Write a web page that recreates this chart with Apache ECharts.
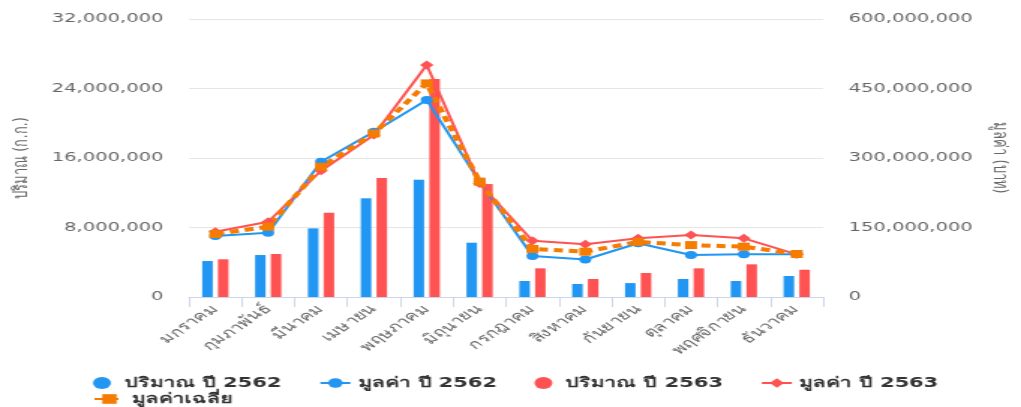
<!DOCTYPE html>
<html>
<head>
<meta charset="utf-8">
<script src="https://cdn.jsdelivr.net/npm/echarts@6/dist/echarts.min.js"></script>
<style>
  html, body { margin: 0; padding: 0; overflow: hidden; background: #fff; }
  /* the reference is stretched sideways, so draw narrow and widen it */
  #main { width: 681px; height: 407px; transform: scaleX(1.4993); transform-origin: 0 0; }
</style>
</head>
<body>
<div id="main"></div>
<script>
var months = ['มกราคม', 'กุมภาพันธ์', 'มีนาคม', 'เมษายน', 'พฤษภาคม', 'มิถุนายน',
  'กรกฎาคม', 'สิงหาคม', 'กันยายน', 'ตุลาคม', 'พฤศจิกายน', 'ธันวาคม'];

// ปริมาณ (ก.ก.)
var qty2562 = [4140000, 4830000, 7900000, 11360000, 13500000, 6250000, 1840000, 1500000, 1600000, 2070000, 1840000, 2420000];
var qty2563 = [4340000, 4950000, 9700000, 13700000, 25100000, 13000000, 3300000, 2070000, 2760000, 3300000, 3760000, 3140000];

// มูลค่า (บาท)
var val2562 = [131700000, 138800000, 292000000, 356800000, 425000000, 249000000, 88500000, 81000000, 116000000, 90600000, 92000000, 92000000];
var val2563 = [141000000, 162500000, 272600000, 349600000, 500700000, 245000000, 121500000, 113700000, 126700000, 133800000, 126700000, 92000000];
var valAvg = [136000000, 151700000, 281000000, 353000000, 461000000, 249000000, 103600000, 97800000, 119000000, 112000000, 108600000, 92800000];

var fontFam = "'DejaVu Sans', 'Noto Sans', sans-serif";
var blue = '#2196F3', red = '#FF5252', orange = '#F57C00';

function fmt(v) {
  return v.toLocaleString('en-US');
}

var chart = echarts.init(document.getElementById('main'));
var option = {
  animation: false,
  textStyle: { fontFamily: fontFam },
  grid: { left: 124, right: 126, top: 19, bottom: 110 },
  legend: [
    {
      left: 57, top: 371, itemWidth: 20, itemHeight: 12, itemGap: 25,
      textStyle: { fontSize: 14, fontWeight: 'bold', color: '#333' },
      data: [
        { name: 'ปริมาณ ปี 2562', icon: 'circle' },
        'มูลค่า ปี 2562',
        { name: 'ปริมาณ ปี 2563', icon: 'circle' },
        'มูลค่า ปี 2563'
      ]
    },
    {
      left: 57, top: 387, itemWidth: 20, itemHeight: 12,
      textStyle: { fontSize: 14, fontWeight: 'bold', color: '#333' },
      data: ['มูลค่าเฉลี่ย']
    }
  ],
  xAxis: {
    type: 'category',
    data: months,
    axisLine: { lineStyle: { color: '#ccd6eb' } },
    axisTick: { show: true, length: 10, lineStyle: { color: '#ccd6eb' } },
    axisLabel: { interval: 0, rotate: 45, margin: 10, fontSize: 13, color: '#666' }
  },
  yAxis: [
    {
      type: 'value', min: 0, max: 32000000, interval: 8000000,
      name: 'ปริมาณ (ก.ก.)', nameLocation: 'middle', nameGap: 105,
      nameTextStyle: { fontSize: 13, color: '#666' },
      axisLine: { show: false }, axisTick: { show: false },
      axisLabel: { fontSize: 13, color: '#666', margin: 17, formatter: fmt },
      splitLine: { lineStyle: { color: '#e6e6e6' } }
    },
    {
      type: 'value', min: 0, max: 600000000, interval: 150000000,
      name: 'มูลค่า (บาท)', nameLocation: 'middle', nameGap: 111, nameRotate: -90,
      nameTextStyle: { fontSize: 13, color: '#666' },
      axisLine: { show: false }, axisTick: { show: false },
      axisLabel: { fontSize: 13, color: '#666', margin: 17, formatter: fmt },
      splitLine: { show: false }
    }
  ],
  series: [
    {
      name: 'ปริมาณ ปี 2562', type: 'bar', yAxisIndex: 0,
      barWidth: 7, barGap: '50%',
      itemStyle: { color: blue },
      data: qty2562
    },
    {
      name: 'มูลค่า ปี 2562', type: 'line', yAxisIndex: 1,
      symbol: 'circle', symbolSize: 8,
      lineStyle: { color: blue, width: 2 },
      itemStyle: { color: blue },
      data: val2562
    },
    {
      name: 'ปริมาณ ปี 2563', type: 'bar', yAxisIndex: 0,
      barWidth: 7, barGap: '50%',
      itemStyle: { color: red },
      data: qty2563
    },
    {
      name: 'มูลค่า ปี 2563', type: 'line', yAxisIndex: 1,
      symbol: 'diamond', symbolSize: 9,
      lineStyle: { color: red, width: 2 },
      itemStyle: { color: red },
      data: val2563
    },
    {
      name: 'มูลค่าเฉลี่ย', type: 'line', yAxisIndex: 1,
      symbol: 'rect', symbolSize: 8,
      lineStyle: { color: orange, width: 4, type: [6, 4] },
      itemStyle: { color: orange },
      data: valAvg
    }
  ]
};
chart.setOption(option);
</script>
</body>
</html>
